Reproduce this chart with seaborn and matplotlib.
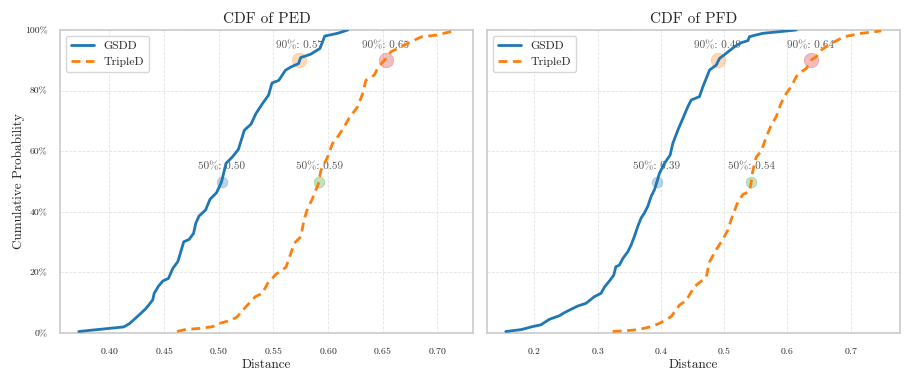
import numpy as np
import pandas as pd
import matplotlib
matplotlib.use("Agg")
import matplotlib.pyplot as plt
from matplotlib.ticker import PercentFormatter
import seaborn as sns

sns.set_theme(style="whitegrid")
plt.rcParams["font.family"] = "serif"
plt.rcParams["font.serif"] = ["cmr10"]
plt.rcParams["mathtext.fontset"] = "cm"
plt.rcParams["axes.formatter.use_mathtext"] = True
plt.rcParams["axes.unicode_minus"] = False

ped_gsdd_x = [0.372, 0.413, 0.418, 0.424, 0.4335, 0.4396, 0.441, 0.445, 0.449, 0.454, 0.458,
              0.4625, 0.464, 0.468, 0.473, 0.477, 0.479, 0.482, 0.488, 0.492, 0.498, 0.502,
              0.503, 0.5067, 0.5127, 0.518, 0.5234, 0.5295, 0.534, 0.540, 0.5456, 0.5487,
              0.555, 0.561, 0.566, 0.573, 0.575, 0.584, 0.5926, 0.597, 0.6087, 0.618]
ped_gsdd_y = [0.005, 0.02, 0.03, 0.049, 0.081, 0.109, 0.131, 0.155, 0.172, 0.18, 0.213,
              0.235, 0.252, 0.301, 0.309, 0.329, 0.362, 0.386, 0.406, 0.441, 0.463, 0.494,
              0.505, 0.56, 0.582, 0.606, 0.669, 0.689, 0.724, 0.757, 0.785, 0.825,
              0.834, 0.867, 0.878, 0.889, 0.909, 0.92, 0.939, 0.98, 0.989, 1.0]

ped_tripled_x = [0.462, 0.470, 0.482, 0.4945, 0.499, 0.510, 0.5164, 0.525, 0.5335, 0.540,
                 0.5447, 0.5524, 0.5615, 0.566, 0.569, 0.5752, 0.578, 0.5813, 0.5852, 0.591,
                 0.5935, 0.5996, 0.604, 0.6087, 0.6148, 0.619, 0.627, 0.6316, 0.6346, 0.6422,
                 0.646, 0.653, 0.6575, 0.6697, 0.685, 0.6986, 0.7154]
ped_tripled_y = [0.005, 0.012, 0.015, 0.021, 0.03, 0.041, 0.052, 0.087, 0.12, 0.131,
                 0.164, 0.194, 0.217, 0.263, 0.296, 0.318, 0.373, 0.411, 0.439, 0.491,
                 0.537, 0.581, 0.625, 0.647, 0.68, 0.708, 0.746, 0.79, 0.834, 0.851,
                 0.878, 0.906, 0.928, 0.95, 0.977, 0.983, 0.997]

pfd_gsdd_x = [0.155, 0.179, 0.197, 0.2105, 0.2237, 0.2396, 0.2475, 0.258, 0.2687, 0.2818,
              0.295, 0.3055, 0.3108, 0.320, 0.3256, 0.329, 0.3345, 0.340, 0.3478, 0.353,
              0.3583, 0.3636, 0.3688, 0.374, 0.3794, 0.3847, 0.390, 0.394, 0.3978, 0.4057,
              0.4147, 0.419, 0.427, 0.4348, 0.4427, 0.448, 0.461, 0.4665, 0.4717, 0.477,
              0.4875, 0.4927, 0.5033, 0.5165, 0.527, 0.5377, 0.540, 0.561, 0.590, 0.614]
pfd_gsdd_y = [0.005, 0.011, 0.021, 0.027, 0.045, 0.057, 0.067, 0.078, 0.089, 0.098,
              0.12, 0.131, 0.151, 0.175, 0.191, 0.219, 0.224, 0.246, 0.268, 0.29,
              0.319, 0.352, 0.379, 0.396, 0.418, 0.451, 0.473, 0.50, 0.527, 0.56,
              0.587, 0.626, 0.67, 0.708, 0.747, 0.769, 0.78, 0.813, 0.84, 0.868,
              0.884, 0.906, 0.923, 0.945, 0.958, 0.965, 0.978, 0.989, 0.995, 1.0]

pfd_tripled_x = [0.324, 0.3478, 0.3636, 0.3847, 0.398, 0.4163, 0.4294, 0.440, 0.453, 0.4717,
                 0.477, 0.4875, 0.498, 0.506, 0.511, 0.5218, 0.530, 0.540, 0.543, 0.5455,
                 0.5508, 0.5587, 0.5666, 0.5745, 0.5824, 0.590, 0.598, 0.606, 0.614, 0.622,
                 0.6298, 0.638, 0.6457, 0.6536, 0.6694, 0.690, 0.7167, 0.7483]
pfd_tripled_y = [0.005, 0.008, 0.011, 0.021, 0.032, 0.054, 0.092, 0.107, 0.153, 0.184,
                 0.235, 0.275, 0.309, 0.34, 0.373, 0.433, 0.458, 0.466, 0.50, 0.537,
                 0.581, 0.60, 0.647, 0.686, 0.714, 0.758, 0.79, 0.813, 0.846, 0.862,
                 0.873, 0.901, 0.912, 0.934, 0.956, 0.978, 0.989, 0.997]

# Percentile markers: (50%, 90%) values for GSDD and TripleD
ped_q_gsdd = [0.503, 0.5737]
ped_q_tripled = [0.592, 0.653]
pfd_q_gsdd = [0.394, 0.490]
pfd_q_tripled = [0.543, 0.637]
levels = [0.5, 0.9]

panels = [
    ("PED", ped_gsdd_x, ped_gsdd_y, ped_tripled_x, ped_tripled_y, ped_q_gsdd, ped_q_tripled),
    ("PFD", pfd_gsdd_x, pfd_gsdd_y, pfd_tripled_x, pfd_tripled_y, pfd_q_gsdd, pfd_q_tripled),
]

fig, axes = plt.subplots(1, 2, figsize=(9.13, 3.81), dpi=100, sharey=True)
fig.subplots_adjust(left=60 / 913, right=900 / 913, top=1 - 30 / 381,
                    bottom=1 - 333 / 381, wspace=0.034)

pal = sns.color_palette("tab10")

for ax, (name, gx, gy, tx, ty, qg, qt) in zip(axes, panels):
    df = pd.concat([
        pd.DataFrame({"Distance": gx, "CDF": gy, "Method": "GSDD"}),
        pd.DataFrame({"Distance": tx, "CDF": ty, "Method": "TripleD"}),
    ])
    sns.lineplot(data=df, x="Distance", y="CDF", hue="Method", style="Method",
                 palette=[pal[0], pal[1]], dashes={"GSDD": "", "TripleD": (3.2, 2.0)},
                 estimator=None, linewidth=2, ax=ax, zorder=3)

    # markers: 50% GSDD, 90% GSDD, 50% TripleD, 90% TripleD cycle through colors
    k = 0
    for q in (qg, qt):
        for lev, val in zip(levels, q):
            size = 60 if lev == 0.5 else 110
            ax.scatter([val], [lev], s=size, color=pal[k], alpha=0.3, zorder=2,
                       edgecolor=pal[k], linewidth=0.5)
            ax.annotate(f"{int(lev * 100)}%: {val:.2f}", (val, lev), xytext=(0, 7),
                        textcoords="offset points", ha="center", va="bottom",
                        fontsize=8, color="#555555", zorder=1)
            k += 1

    ax.set_title(f"CDF of {name}", fontsize=11, pad=5)
    ax.set_xlabel("Distance", fontsize=9.5, labelpad=2)
    ax.set_ylim(0, 1)
    ax.yaxis.set_major_formatter(PercentFormatter(1.0, decimals=0))
    ax.tick_params(labelsize=7, pad=3)
    ax.grid(True, linestyle="--", linewidth=0.6, color="#e3e3e3")
    for sp in ax.spines.values():
        sp.set_color("#cccccc")
    leg = ax.legend(loc="upper left", fontsize=8.5, frameon=True)
    leg.get_frame().set_edgecolor("#cccccc")

axes[0].set_ylabel("Cumulative Probability", fontsize=9.5, labelpad=0)
axes[1].set_ylabel("")
axes[1].tick_params(axis="y", left=False, labelleft=False)
axes[1].set_xticks([0.2, 0.3, 0.4, 0.5, 0.6, 0.7])

fig.savefig("out.png", dpi=100)
